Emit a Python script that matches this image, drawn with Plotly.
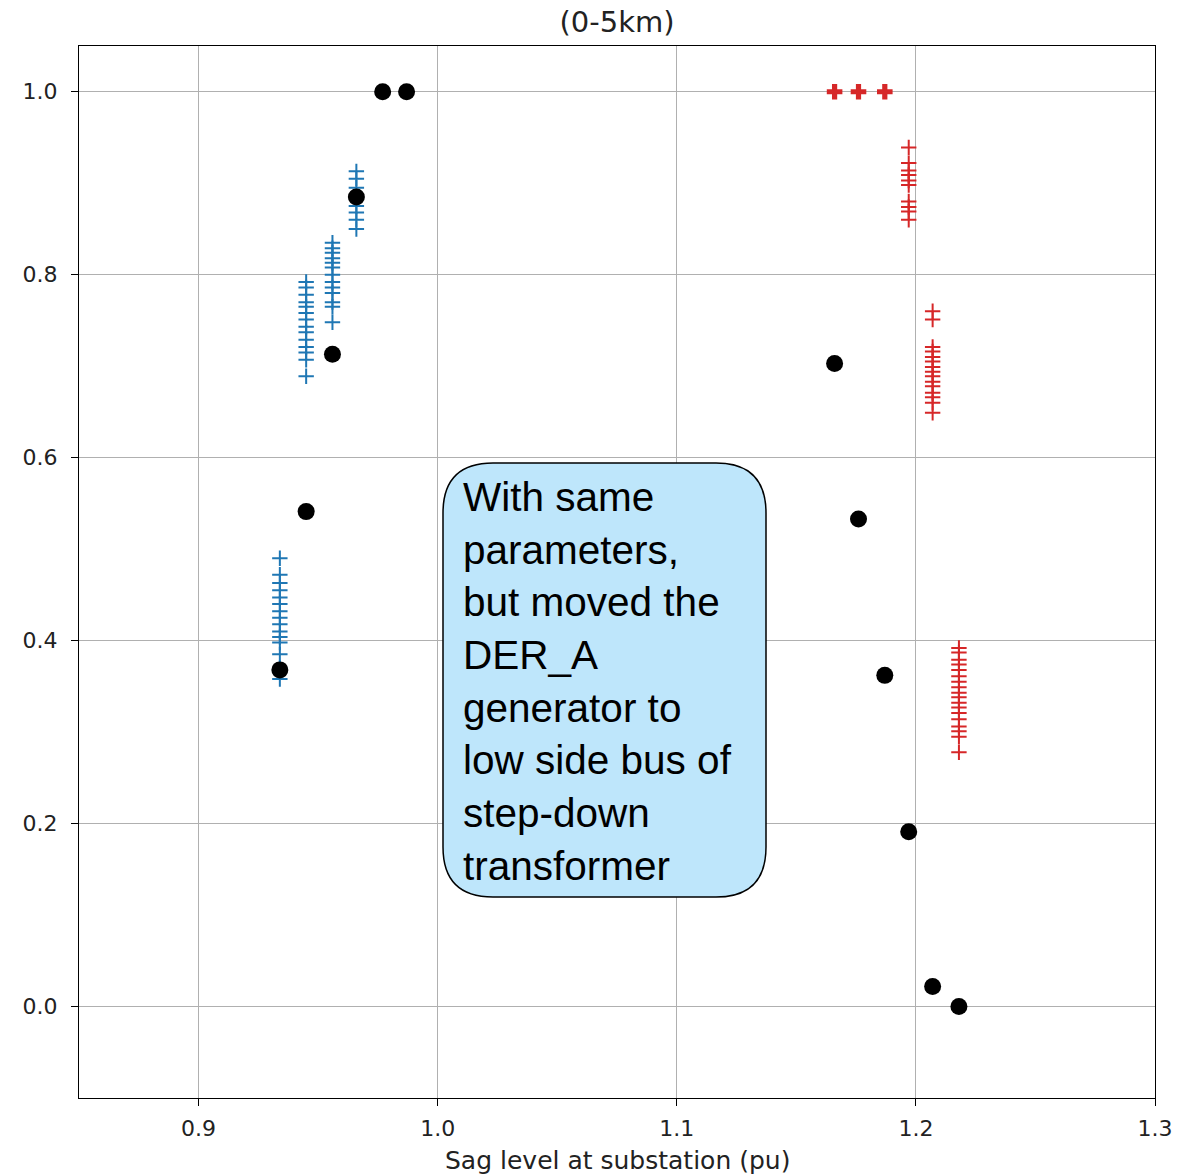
import plotly.graph_objects as go

# ---- data ----
# black dots: sag level vs value
dot_x = [0.934, 0.945, 0.956, 0.966, 0.977, 0.987,
         1.166, 1.176, 1.187, 1.197, 1.207, 1.218]
dot_y = [0.368, 0.541, 0.713, 0.885, 1.000, 1.000,
         0.703, 0.533, 0.362, 0.191, 0.022, 0.000]

# blue crosses (columns)
blue_col_x = [0.934, 0.945, 0.956, 0.966]
blue_col_y = [
    [0.490, 0.472, 0.463, 0.455, 0.447, 0.440, 0.432, 0.425, 0.418, 0.410, 0.404, 0.398, 0.385, 0.370, 0.358],
    [0.792, 0.786, 0.778, 0.770, 0.765, 0.758, 0.751, 0.743, 0.737, 0.729, 0.721, 0.715, 0.707, 0.689],
    [0.835, 0.829, 0.824, 0.818, 0.813, 0.808, 0.800, 0.792, 0.786, 0.780, 0.770, 0.765, 0.748],
    [0.913, 0.905, 0.895, 0.885, 0.875, 0.868, 0.860, 0.850],
]

# red crosses (columns)
red_col_x = [1.197, 1.207, 1.218]
red_col_y = [
    [0.939, 0.922, 0.914, 0.909, 0.903, 0.898, 0.880, 0.874, 0.869, 0.860],
    [0.760, 0.751, 0.721, 0.716, 0.710, 0.705, 0.699, 0.694, 0.689, 0.683, 0.678, 0.671, 0.666, 0.660, 0.649],
    [0.392, 0.387, 0.379, 0.374, 0.368, 0.361, 0.355, 0.349, 0.343, 0.338, 0.332, 0.327, 0.321, 0.314, 0.306, 0.301, 0.295, 0.278],
]

# bold red plus markers at 1.0
bold_x = [1.166, 1.176, 1.187]
bold_y = [1.0, 1.0, 1.0]

x_ticks = [0.9, 1.0, 1.1, 1.2, 1.3]
y_ticks = [0.0, 0.2, 0.4, 0.6, 0.8, 1.0]

title_text = "(0-5km)"
x_label = "Sag level at substation (pu)"
note_lines = ["With same", "parameters,", "but moved the", "DER_A",
              "generator to", "low side bus of", "step-down", "transformer"]


def flatten(cols_x, cols_y):
    xs, ys = [], []
    for cx, cy in zip(cols_x, cols_y):
        xs.extend([cx] * len(cy))
        ys.extend(cy)
    return xs, ys


bx, by = flatten(blue_col_x, blue_col_y)
rx, ry = flatten(red_col_x, red_col_y)

fig = go.Figure()
fig.add_trace(go.Scatter(x=bx, y=by, mode="markers",
                         marker=dict(symbol="cross-thin", size=11,
                                     line=dict(color="#1f77b4", width=2)),
                         showlegend=False))
fig.add_trace(go.Scatter(x=rx, y=ry, mode="markers",
                         marker=dict(symbol="cross-thin", size=11,
                                     line=dict(color="#d62728", width=2)),
                         showlegend=False))
fig.add_trace(go.Scatter(x=bold_x, y=bold_y, mode="markers",
                         marker=dict(symbol="cross", size=13, color="#d62728",
                                     line=dict(width=0)),
                         showlegend=False))
fig.add_trace(go.Scatter(x=dot_x, y=dot_y, mode="markers",
                         marker=dict(symbol="circle", size=17, color="black",
                                     line=dict(width=0)),
                         showlegend=False))

# rounded note box (pixel geometry converted to data coords)
X0, X1, Y0, Y1 = 0.85, 1.3, -0.1, 1.05
L, T, W, H = 79, 46, 1076, 1052


def px2x(p):
    return X0 + (p - L) / W * (X1 - X0)


def py2y(p):
    return Y1 - (p - T) / H * (Y1 - Y0)


bx0, bx1 = px2x(443), px2x(766)
by0, by1 = py2y(897), py2y(463)
rxd = 50 / W * (X1 - X0)
ryd = 50 / H * (Y1 - Y0)
path = (f"M {bx0 + rxd},{by1} L {bx1 - rxd},{by1} Q {bx1},{by1} {bx1},{by1 - ryd} "
        f"L {bx1},{by0 + ryd} Q {bx1},{by0} {bx1 - rxd},{by0} "
        f"L {bx0 + rxd},{by0} Q {bx0},{by0} {bx0},{by0 + ryd} "
        f"L {bx0},{by1 - ryd} Q {bx0},{by1} {bx0 + rxd},{by1} Z")
fig.add_shape(type="path", path=path, xref="x", yref="y",
              fillcolor="#bee6fb", line=dict(color="black", width=1.5), layer="above")

fig.add_annotation(text="<br>".join(note_lines), x=px2x(461), y=py2y(681),
                   xref="x", yref="y", xanchor="left", yanchor="middle",
                   align="left", showarrow=False,
                   font=dict(family="Liberation Sans, Arial", size=40.5, color="black"))

fig.add_annotation(text=x_label, x=0.5, y=0, xref="paper", yref="paper",
                   yshift=-62, yanchor="middle", showarrow=False,
                   font=dict(family="DejaVu Sans", size=25, color="#222222"))

fig.update_layout(
    width=1186, height=1174,
    margin=dict(l=79, r=31, t=46, b=76),
    paper_bgcolor="white", plot_bgcolor="white",
    title=dict(text=title_text, x=(79 + 1076 / 2) / 1186, xanchor="center",
               y=1 - 22 / 1174, yanchor="middle", yref="container",
               font=dict(family="DejaVu Sans", size=29, color="#222222")),
    font=dict(family="DejaVu Sans", color="#222222"),
)
fig.update_xaxes(range=[X0, X1], tickvals=x_ticks, tickformat=".1f",
                 showgrid=True, gridcolor="#b0b0b0", gridwidth=1.2,
                 showline=True, linecolor="black", linewidth=1.3, mirror=True,
                 ticks="outside", ticklen=7, tickcolor="black", tickwidth=1.3,
                 ticklabelstandoff=3,
                 tickfont=dict(size=22, family="DejaVu Sans", color="#222222"),
                 zeroline=False)
fig.update_yaxes(range=[Y0, Y1], tickvals=y_ticks, tickformat=".1f",
                 showgrid=True, gridcolor="#b0b0b0", gridwidth=1.2,
                 showline=True, linecolor="black", linewidth=1.3, mirror=True,
                 ticks="outside", ticklen=7, tickcolor="black", tickwidth=1.3,
                 ticklabelstandoff=9,
                 tickfont=dict(size=22, family="DejaVu Sans", color="#222222"),
                 zeroline=False)

fig.write_html("out.html", config={"displayModeBar": False},
               post_script="document.body.style.margin='0';")
